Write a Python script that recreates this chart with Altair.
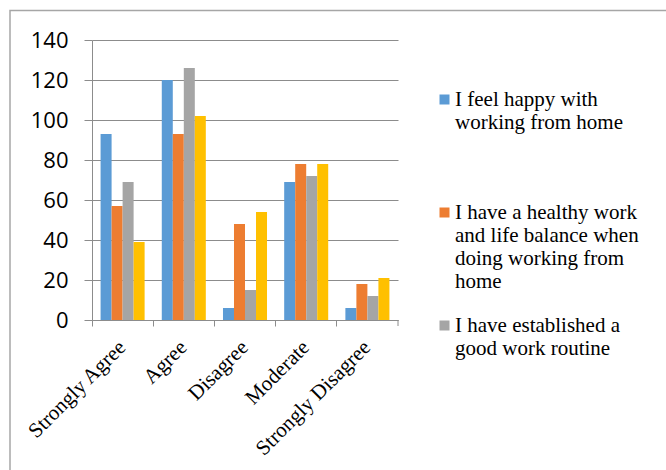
import altair as alt
import pandas as pd

# Survey responses per agreement level, one list per statement
categories = ["Strongly Agree", "Agree", "Disagree", "Moderate", "Strongly Disagree"]
series_names = [
    "I feel happy with working from home",
    "I have a healthy work and life balance when doing working from home",
    "I have established a good work routine",
    "Series 4",
]
happy = [93, 120, 6, 69, 6]
balance = [57, 93, 48, 78, 18]
routine = [69, 126, 15, 72, 12]
series4 = [39, 102, 54, 78, 21]
colors = ["#5B9BD5", "#ED7D31", "#A5A5A5", "#FFC000"]

# Wrapped legend text for the statements shown in the legend
legend_lines = [
    ["I feel happy with", "working from home", "", "", ""],
    ["I have a healthy work", "and life balance when", "doing working from", "home", ""],
    ["I have established a", "good work routine"],
]
y_ticks = [0, 20, 40, 60, 80, 100, 120, 140]

rows = []
for name, vals in zip(series_names, [happy, balance, routine, series4]):
    for cat, v in zip(categories, vals):
        rows.append({"category": cat, "series": name, "value": v})
df = pd.DataFrame(rows)

label_expr = ""
for name, lines in zip(series_names[:3], legend_lines):
    arr = "[" + ", ".join("'" + s + "'" for s in lines) + "]"
    label_expr += f"datum.label === '{name}' ? {arr} : "
label_expr += "datum.label"

GRAY = "#8c8c8c"
SERIF = "Liberation Serif"
W, H = 306, 280
PAD = {"left": 92, "top": 40, "right": 666 - 92 - W, "bottom": 470 - 40 - H}

bars = alt.Chart(df).mark_bar().encode(
    x=alt.X(
        "category:N",
        sort=categories,
        title=None,
        scale=alt.Scale(paddingInner=0, paddingOuter=0),
        axis=alt.Axis(
            labelAngle=-45,
            labelAlign="right",
            labelBaseline="middle",
            labelPadding=18,
            bandPosition=0,
            tickSize=6,
            tickColor=GRAY,
            domainColor=GRAY,
            grid=False,
        ),
    ),
    xOffset=alt.XOffset(
        "series:N",
        sort=series_names,
        scale=alt.Scale(paddingInner=0, paddingOuter=0.78),
    ),
    y=alt.Y(
        "value:Q",
        title=None,
        scale=alt.Scale(domain=[0, 140], nice=False),
        axis=alt.Axis(
            values=y_ticks,
            labelPadding=16,
            tickSize=8,
            tickColor=GRAY,
            domainColor=GRAY,
            gridColor=GRAY,
            grid=True,
        ),
    ),
    color=alt.Color(
        "series:N",
        sort=series_names,
        scale=alt.Scale(domain=series_names, range=colors),
        title=None,
        legend=alt.Legend(
            values=series_names[:3],
            orient="none",
            legendX=342,
            legendY=49,
            symbolType="square",
            symbolSize=100,
            symbolStrokeWidth=0,
            labelOffset=0,
            labelLimit=300,
            labelExpr=label_expr,
            rowPadding=-9,
            padding=0,
        ),
    ),
)

one = pd.DataFrame({"k": [0]})

# closing tick at the right end of the category axis
end_tick = alt.Chart(one).mark_rule(color=GRAY).encode(
    x=alt.value(W), y=alt.value(H), y2=alt.value(H + 6)
)

# chart frame
frame = alt.Chart(one).mark_rect(
    fill="transparent", stroke="#a6a6a6", strokeWidth=1.5
).encode(
    x=alt.value(-82), x2=alt.value(700), y=alt.value(-29.5), y2=alt.value(600)
)

chart = (
    alt.layer(frame, bars, end_tick)
    .properties(
        width=W,
        height=H,
        autosize=alt.AutoSizeParams(type="none"),
        padding=PAD,
        background="white",
    )
    .configure(font=SERIF)
    .configure_view(stroke="transparent")
    .configure_axisX(labelFont=SERIF, labelFontSize=21, labelColor="black")
    .configure_axisY(labelFont="Open Sans", labelFontSize=22, labelColor="black")
    .configure_legend(labelFont=SERIF, labelFontSize=21, labelColor="black")
)

chart.save("out.html", embed_options={"renderer": "svg", "actions": False})
